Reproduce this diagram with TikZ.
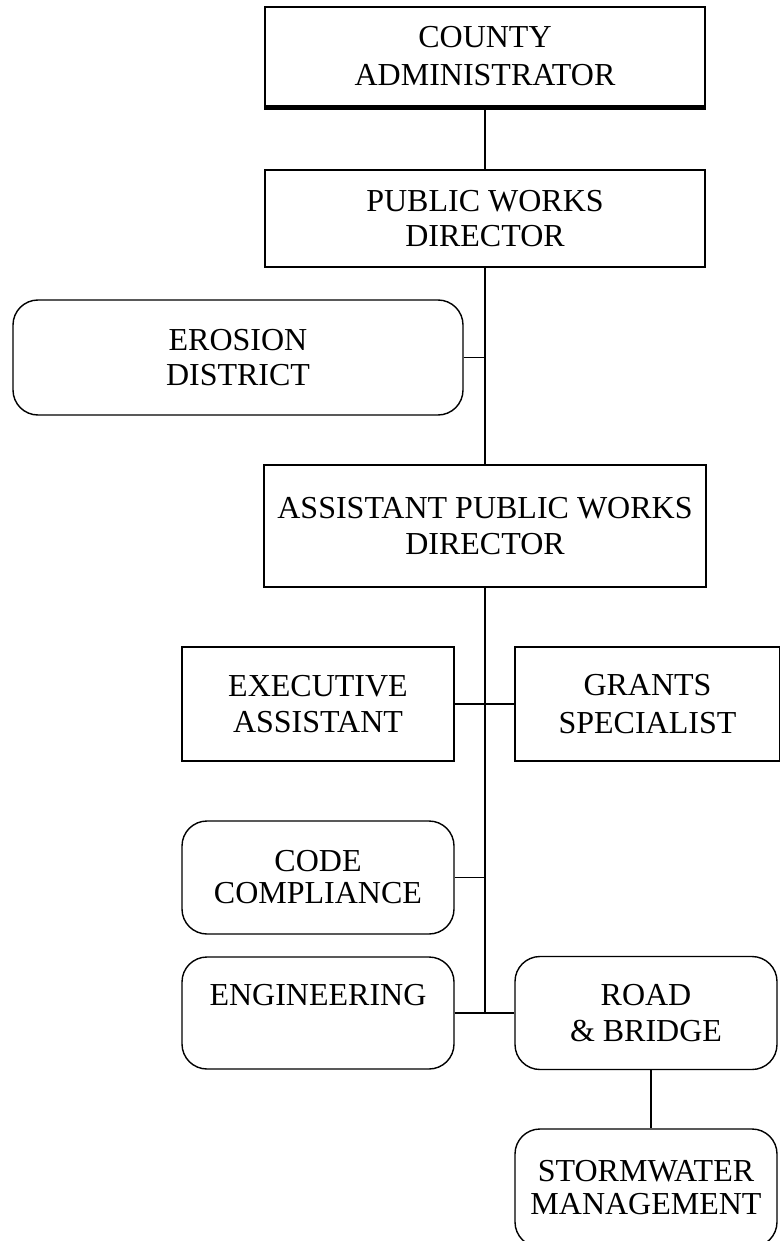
\documentclass[tikz,border=0pt]{standalone}
\usepackage{fontspec}
\setmainfont{Liberation Serif}
\begin{document}
\begin{tikzpicture}[x=1pt,y=-1pt,
  box/.style={draw, line width=1.4pt, inner sep=0pt, align=center,
              font=\fontsize{32}{36}\selectfont},
  rbox/.style={box, rounded corners=25pt},
  link/.style={line width=1.4pt}]
\useasboundingbox (0,0) rectangle (779,1241);

% management chain
\node[box, minimum width=440pt, minimum height=99pt, font=\fontsize{32}{38}\selectfont] (county) at (485,56.5) {COUNTY\\ADMINISTRATOR};
\draw[line width=4pt] ([yshift=-1pt]county.south west) -- ([yshift=-1pt]county.south east);
\node[box, minimum width=440pt, minimum height=97pt, font=\fontsize{32}{35}\selectfont] (pw) at (485,218.5) {PUBLIC WORKS\\DIRECTOR};
\node[rbox, minimum width=450pt, minimum height=115pt, font=\fontsize{32}{35}\selectfont] (erosion) at (238,357.5) {EROSION\\DISTRICT};
\node[box, minimum width=442pt, minimum height=122pt] (asst) at (485,526) {ASSISTANT PUBLIC WORKS\\DIRECTOR};

% staff and divisions
\node[box, minimum width=272pt, minimum height=114pt] (exec) at (318,704) {EXECUTIVE\\ASSISTANT};
\node[box, minimum width=265pt, minimum height=114pt, font=\fontsize{32}{38}\selectfont] (grants) at (647.5,704) {GRANTS\\SPECIALIST};
\node[rbox, minimum width=272pt, minimum height=113pt, font=\fontsize{32}{32}\selectfont] (code) at (318,877.5) {CODE\\COMPLIANCE};
\node[rbox, minimum width=272pt, minimum height=112pt] (eng) at (318,1013) {ENGINEERING\\\mbox{}};
\node[rbox, minimum width=262pt, minimum height=113pt] (road) at (646,1013) {ROAD\\\&~BRIDGE};
\node[rbox, minimum width=262pt, minimum height=118pt, font=\fontsize{32}{33}\selectfont] (storm) at (646,1188) {STORMWATER\\MANAGEMENT};

% connectors
\draw[link] (county.south) -- (pw.north);
\draw[link] (pw.south) -- (asst.north);
\draw[link] (erosion.east) -- (erosion.east -| pw.south);
\draw[link] (asst.south) -- (asst.south |- eng.east);
\draw[link] (exec.east) -- (grants.west);
\draw[link] (code.east) -- (code.east -| asst.south);
\draw[link] (eng.east) -- (road.west);
\draw[link] ([xshift=5pt]road.south) -- ([xshift=5pt]storm.north);
\end{tikzpicture}
\end{document}
